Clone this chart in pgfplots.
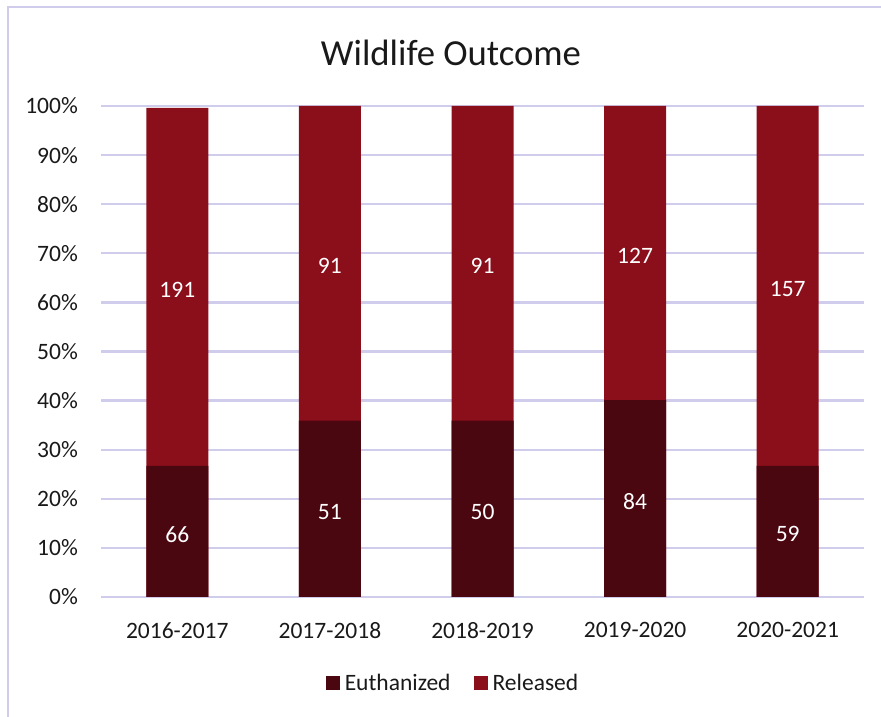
\documentclass[border=0pt]{standalone}
\usepackage{pgfplots}
\pgfplotsset{compat=1.18}
\usepackage{fontspec}
\setmainfont{Carlito}
\definecolor{gridc}{RGB}{208,204,236}
\definecolor{rel}{RGB}{139,14,27}
\definecolor{eut}{RGB}{74,7,16}
\newcommand{\lbl}{\fontsize{23.5bp}{28bp}\selectfont}
\begin{document}
\begin{tikzpicture}
\useasboundingbox (0,0) rectangle (881bp,717bp);
\draw[gridc, line width=2bp] (7.5bp,0) -- (7.5bp,709.5bp) -- (881bp,709.5bp);
\node[anchor=base, font=\fontsize{36.7bp}{44bp}\selectfont, text=black!90] at (451bp,651bp) {Wildlife Outcome};
\begin{axis}[
  at={(101bp,120bp)}, anchor=south west,
  scale only axis, width=763bp, height=491bp,
  xmin=-0.5, xmax=4.5, ymin=0, ymax=100,
  axis x line=bottom, axis y line=left,
  axis line style={draw=none},
  major tick length=0pt,
  ymajorgrids, grid style={gridc, line width=2.3bp},
  xtick={0,1,2,3,4},
  xticklabels={2016-2017,2017-2018,2018-2019,2019-2020,2020-2021},
  ytick={0,10,20,30,40,50,60,70,80,90,100},
  yticklabels={0\%,10\%,20\%,30\%,40\%,50\%,60\%,70\%,80\%,90\%,100\%},
  tick label style={font=\lbl, text=black!90},
  yticklabel style={anchor=east, inner sep=0pt, xshift=-23bp},
  xticklabel style={anchor=north, inner sep=0pt, yshift=-25bp},
  legend image code/.code={\fill[#1] (0bp,-7bp) rectangle (14bp,7bp);},
  legend style={at={(axis description cs:0.4633,-0.1752)}, anchor=center,
    draw=none, fill=none, legend columns=2, font=\lbl, text=black!90,
    inner sep=0pt, nodes={inner ysep=0pt, inner xsep=5bp},
    /tikz/every even column/.append style={column sep=18bp}},
]
\addlegendimage{fill=eut, draw=none}
\addlegendentry{Euthanized}
\addlegendimage{fill=rel, draw=none}
\addlegendentry{Released}
% Released (full bar, drawn behind)
\addplot[ybar, bar width=62bp, bar shift=0pt, fill=rel, draw=none, forget plot]
  coordinates {(0,99.6) (1,100) (2,100) (3,100) (4,100)};
% Euthanized share
\addplot[ybar, bar width=62bp, bar shift=0pt, fill=eut, draw=none, forget plot]
  coordinates {(0,26.7) (1,35.9) (2,35.9) (3,40.1) (4,26.7)};
% Count labels
\addplot[draw=none, mark=none, forget plot, nodes near coords, point meta=explicit symbolic,
  every node near coord/.append style={font=\lbl, text=white, anchor=center, yshift=-3bp}]
  coordinates {(0,13.35)[66] (1,17.95)[51] (2,17.95)[50] (3,20.05)[84] (4,13.35)[59]
               (0,63.15)[191] (1,67.95)[91] (2,67.95)[91] (3,70.05)[127] (4,63.35)[157]};
\end{axis}
\end{tikzpicture}
\end{document}
